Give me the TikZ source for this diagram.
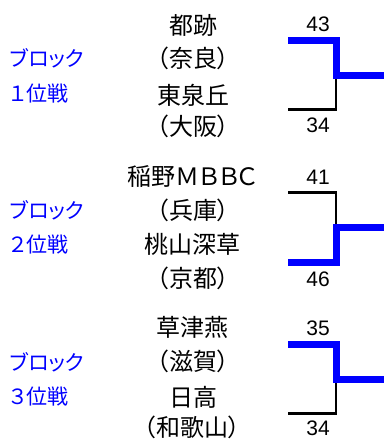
\documentclass[tikz,border=0pt]{standalone}
\usepackage{fontspec}
\setmainfont{Noto Sans CJK JP}[RawFeature={+palt}]
\newfontfamily\numfont{Liberation Sans}
\usepackage{xcolor}

\begin{document}
\begin{tikzpicture}[x=1pt,y=-1pt,
  team/.style={inner sep=0pt,font=\fontsize{24}{24}\selectfont},
  blk/.style={inner sep=0pt,anchor=west,text=blue,font=\fontsize{21}{21}\selectfont},
  score/.style={inner sep=0pt,font=\numfont\fontsize{21}{21}\selectfont},
  win/.style={draw=blue,line width=7pt},
  lose/.style={draw=black,line width=2.5pt}]
  \useasboundingbox (0,0) rectangle (384,439);
  % block 1
  \node[blk] (b1) at (10,58) {ブロック};
  \node[blk] (r1) at (10,94) {１位戦};
  \node[team] (t1) at (193,25) {都跡};
  \node[team] (p1) at (193,58) {（奈良）};
  \node[team] (t2) at (193,95) {東泉丘};
  \node[team] (p2) at (193,126) {（大阪）};
  \node[score] (s1) at (318,24.5) {43};
  \node[score] (s2) at (318,125) {34};
  \coordinate (u1) at (288,40.5);
  \coordinate (d1) at (288,109.5);
  \coordinate (m1) at (336,75);
  \coordinate (e1) at (384,75);
  \draw[lose] (d1) -| (m1);
  \draw[win] (u1) -| (m1) -- (e1);
  % block 2
  \node[blk] (b2) at (10,210) {ブロック};
  \node[blk] (r2) at (10,245) {２位戦};
  \node[team] (t3) at (192,176) {稲野ＭＢＢＣ};
  \node[team] (p3) at (193,210) {（兵庫）};
  \node[team] (t4) at (192,244) {桃山深草};
  \node[team] (p4) at (193,278) {（京都）};
  \node[score] (s3) at (318,177) {41};
  \node[score] (s4) at (318,279.5) {46};
  \coordinate (u2) at (288,192.5);
  \coordinate (d2) at (288,262);
  \coordinate (m2) at (336,227);
  \coordinate (e2) at (384,227);
  \draw[lose] (u2) -| (m2);
  \draw[win] (d2) -| (m2) -- (e2);
  % block 3
  \node[blk] (b3) at (10,362) {ブロック};
  \node[blk] (r3) at (10,397) {３位戦};
  \node[team] (t5) at (192,327) {草津燕};
  \node[team] (p5) at (193,361) {（滋賀）};
  \node[team] (t6) at (193,397) {日高};
  \node[team] (p6) at (192,427) {（和歌山）};
  \node[score] (s5) at (318,328.5) {35};
  \node[score] (s6) at (318,428) {34};
  \coordinate (u3) at (288,344);
  \coordinate (d3) at (288,413.5);
  \coordinate (m3) at (336,379);
  \coordinate (e3) at (384,379);
  \draw[lose] (d3) -| (m3);
  \draw[win] (u3) -| (m3) -- (e3);
\end{tikzpicture}
\end{document}
